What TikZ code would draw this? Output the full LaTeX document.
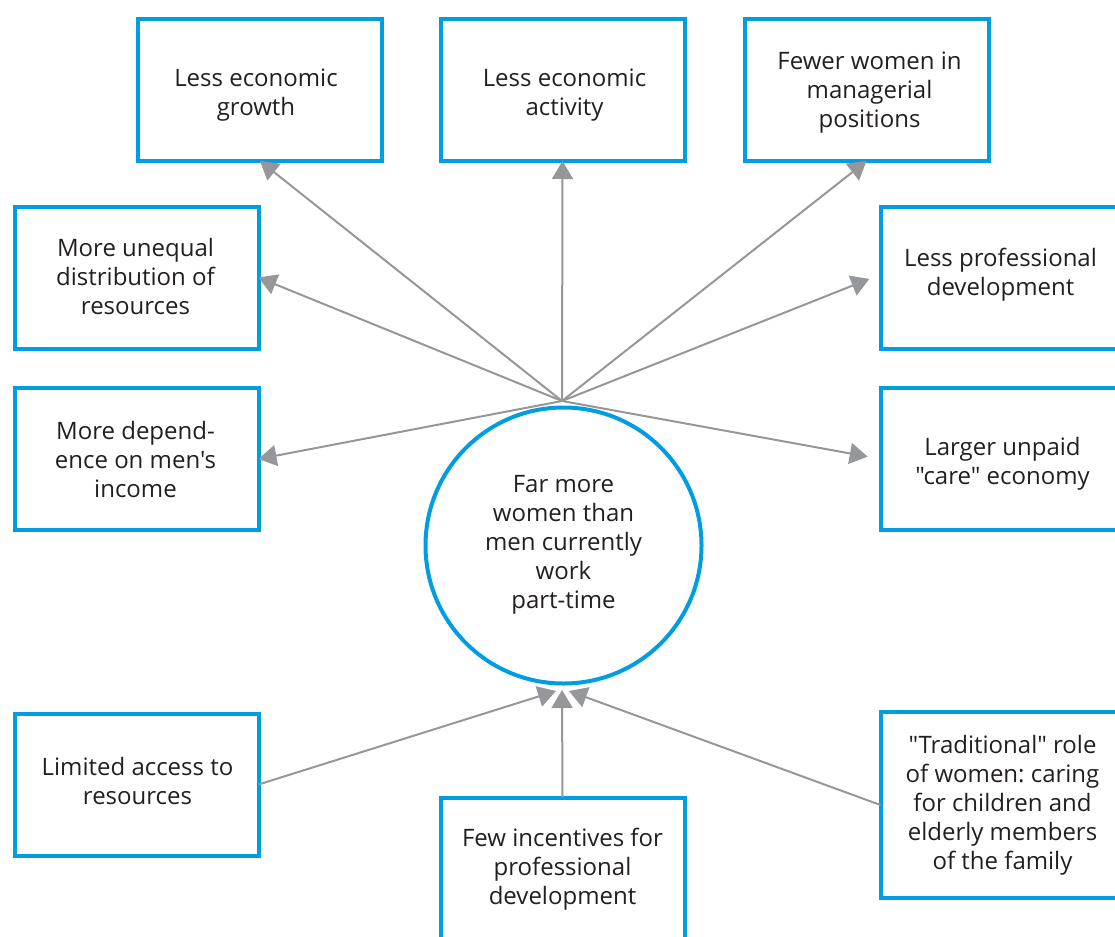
\documentclass[tikz,border=0pt]{standalone}
\usepackage{fontspec}
\setmainfont{Open Sans}[Ligatures=TeXOff]
\usetikzlibrary{arrows.meta}
\definecolor{boxblue}{RGB}{0,158,224}
\definecolor{arrgray}{RGB}{150,151,155}
\definecolor{txt}{RGB}{35,31,32}
\frenchspacing
\begin{document}
\begin{tikzpicture}[x=1pt,y=-1pt,
  box/.style={draw=boxblue, line width=4pt, minimum width=244pt, minimum height=142pt,
    inner sep=0pt, outer sep=0pt},
  ltext/.style={align=center, text=txt, font=\fontsize{24}{29}\selectfont, inner sep=0pt},
  hubcircle/.style={draw=boxblue, line width=4pt, circle, minimum size=276pt,
    inner sep=0pt, outer sep=0pt},
  conn/.style={draw=arrgray, line width=2pt, -{Triangle[length=18pt,width=21pt]}, fill=arrgray}
]
\useasboundingbox (0,0) rectangle (1115,936);

\node[box, label={[ltext,yshift=-5pt,xshift=-4pt]center:{Less economic\\growth}}] (A) at (260,90) {};
\node[box, label={[ltext,yshift=-5pt,xshift=2pt]center:{Less economic\\activity}}] (B) at (562.5,90) {};
\node[box, label={[ltext,yshift=-3pt,xshift=3pt]center:{Fewer women in\\managerial\\positions}}] (C) at (866.5,90) {};
\node[box, label={[ltext,yshift=1pt,xshift=-1pt]center:{More unequal\\distribution of\\resources}}] (D) at (136.5,277.5) {};
\node[box, label={[ltext,yshift=3pt,xshift=-2pt]center:{Less professional\\development}}] (E) at (1002.5,277.5) {};
\node[box, label={[ltext,xshift=-1pt]center:{More depend-\\ence on men's\\income}}] (F) at (136.5,459) {};
\node[box, label={[ltext,yshift=-5pt]center:{Larger unpaid\\"care" economy}}] (G) at (1002.5,459) {};
\node[box, label={[ltext,yshift=4pt,xshift=1pt]center:{Limited access to\\resources}}] (H) at (136.5,784.5) {};
\node[box, label={[ltext,yshift=-1pt]center:{Few incentives for\\professional\\development}}] (I) at (562.5,868.5) {};
\node[box, minimum height=186pt, label={[ltext]center:{"Traditional" role\\of women: caring\\for children and\\elderly members\\of the family}}] (J) at (1002.5,805) {};

\node[hubcircle, label={[ltext,yshift=1pt]center:{Far more\\women than\\men currently\\work\\part-time}}] (K) at (563.5,545.5) {};

\coordinate (hub) at (562,401);
\coordinate (tipL) at (556,691);
\coordinate (tipC) at (562,690);
\coordinate (tipR) at (569,691);

\draw[conn] (hub) -- (A.south);
\draw[conn] (hub) -- (B.south);
\draw[conn] (hub) -- (C.south);
\draw[conn] (hub) -- (D.east);
\draw[conn] (hub) -- (F.east);
\draw[conn, shorten >=12pt] (hub) -- ([yshift=3pt]E.west);
\draw[conn, shorten >=13pt] (hub) -- (G.west);

\draw[conn] (H.east) -- (tipL);
\draw[conn] (I.north) -- (tipC);
\draw[conn] (J.west) -- (tipR);
\end{tikzpicture}
\end{document}
